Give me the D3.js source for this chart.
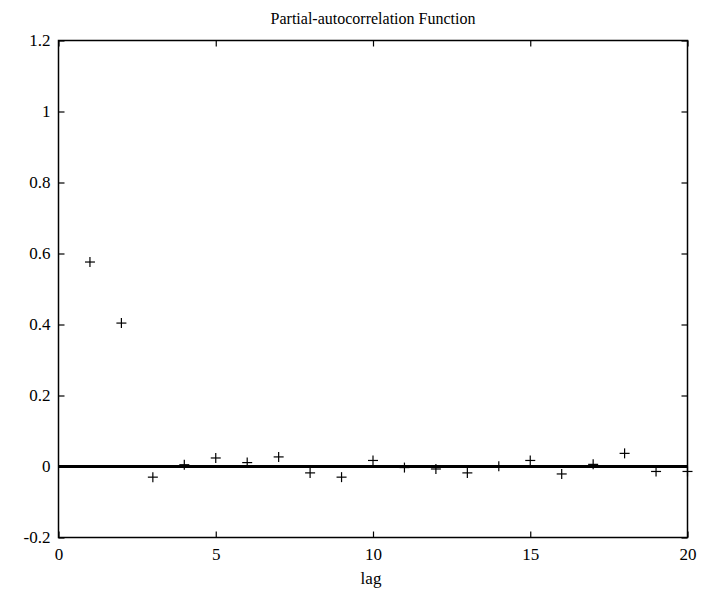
<!DOCTYPE html>
<html>
<head>
<meta charset="utf-8">
<script src="https://cdn.jsdelivr.net/npm/d3@7"></script>
<style>
  html, body { margin: 0; padding: 0; background: #fff; }
  svg { display: block; }
</style>
</head>
<body>
<svg id="chart" width="706" height="592"></svg>
<script>
// ---- data ----
const lags = [1,2,3,4,5,6,7,8,9,10,11,12,13,14,15,16,17,18,19,20];
const pacf = [0.576,0.404,-0.030,0.005,0.024,0.011,0.027,-0.018,-0.030,0.017,
              -0.003,-0.007,-0.018,0.001,0.017,-0.021,0.006,0.037,-0.014,-0.014];
const xTicks = [0,5,10,15,20];
const yTicks = [-0.2,0,0.2,0.4,0.6,0.8,1,1.2];
const titleText = "Partial-autocorrelation Function";
const xLabel = "lag";

// ---- layout ----
const FONT = "'Times New Roman', 'Liberation Serif', Tinos, 'DejaVu Serif', 'Noto Serif', serif";
const L = 58.5, R = 687.5, T = 40.5, B = 537.5;

const svg = d3.select("#chart");
const x = d3.scaleLinear().domain([0,20]).range([L,R]);
const y = d3.scaleLinear().domain([-0.2,1.2]).range([B,T]);

const fmt = d => String(+d.toFixed(1));

// frame
svg.append("rect").attr("x",L).attr("y",T).attr("width",R-L).attr("height",B-T)
  .attr("fill","none").attr("stroke","#000").attr("stroke-width",1.5);

function styleAxis(g){
  g.attr("font-family", FONT).attr("font-size", 17);
  g.select(".domain").remove();
  g.selectAll(".tick line").attr("stroke","#000").attr("stroke-width",1.2);
  g.selectAll(".tick text").attr("font-family", FONT).attr("font-size", 17).attr("fill","#000");
}

// bottom axis (ticks inward)
svg.append("g").attr("transform",`translate(0,${B})`)
  .call(d3.axisBottom(x).tickValues(xTicks).tickFormat(fmt).tickSizeInner(-6).tickSizeOuter(0).tickPadding(10))
  .call(styleAxis);
// top axis ticks only
svg.append("g").attr("transform",`translate(0,${T})`)
  .call(d3.axisTop(x).tickValues(xTicks).tickFormat("").tickSizeInner(-6).tickSizeOuter(0))
  .call(styleAxis);
// left axis
svg.append("g").attr("transform",`translate(${L},0)`)
  .call(d3.axisLeft(y).tickValues(yTicks).tickFormat(fmt).tickSizeInner(-6).tickSizeOuter(0).tickPadding(8))
  .call(styleAxis);
// right axis ticks only
svg.append("g").attr("transform",`translate(${R},0)`)
  .call(d3.axisRight(y).tickValues(yTicks).tickFormat("").tickSizeInner(-6).tickSizeOuter(0))
  .call(styleAxis);

// zero line
svg.append("line").attr("x1",x(0)).attr("x2",x(20)).attr("y1",y(0)).attr("y2",y(0))
  .attr("stroke","#000").attr("stroke-width",3);

// plus markers
const s = 5;
const pts = svg.append("g").selectAll("g").data(lags.map((l,i)=>({l, v:pacf[i]}))).join("g")
  .attr("transform", d => `translate(${x(d.l)},${y(d.v)})`);
pts.append("line").attr("x1",-s).attr("x2",s).attr("y1",0).attr("y2",0).attr("stroke","#000").attr("stroke-width",1.2);
pts.append("line").attr("x1",0).attr("x2",0).attr("y1",-s).attr("y2",s).attr("stroke","#000").attr("stroke-width",1.2);

// title
svg.append("text").attr("x",(L+R)/2).attr("y",24).attr("text-anchor","middle")
  .attr("font-family", FONT).attr("font-size", 16).text(titleText);

// x label
svg.append("text").attr("x",(L+R)/2 - 2).attr("y",584).attr("text-anchor","middle")
  .attr("font-family", FONT).attr("font-size", 17).text(xLabel);
</script>
</body>
</html>
